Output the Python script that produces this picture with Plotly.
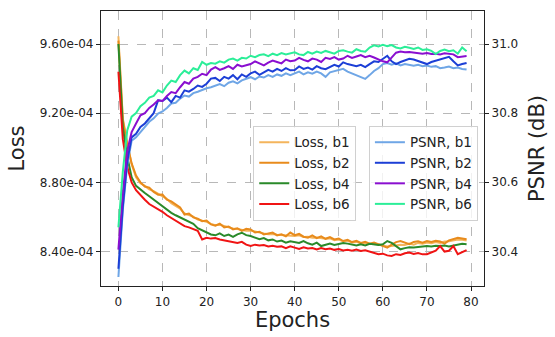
import numpy as np
import plotly.graph_objects as go

epochs = list(range(80))

# Loss values in units of 1e-4
loss_b1 = [9.645, 9.17, 9.03, 8.905, 8.83, 8.795, 8.78, 8.76, 8.75, 8.735,
           8.72, 8.705, 8.68, 8.665, 8.648, 8.62, 8.61, 8.602, 8.585, 8.58,
           8.572, 8.56, 8.553, 8.555, 8.548, 8.538, 8.534, 8.53, 8.525, 8.52,
           8.522, 8.515, 8.51, 8.505, 8.50, 8.502, 8.497, 8.495, 8.492, 8.49,
           8.49, 8.494, 8.484, 8.486, 8.48, 8.482, 8.478, 8.474, 8.476, 8.466,
           8.47, 8.458, 8.462, 8.452, 8.456, 8.448, 8.45, 8.444, 8.446, 8.44,
           8.432, 8.43, 8.432, 8.436, 8.44, 8.438, 8.446, 8.44, 8.45, 8.445,
           8.452, 8.448, 8.455, 8.45, 8.458, 8.46, 8.465, 8.47, 8.468, 8.464]
loss_b2 = [9.62, 9.16, 9.02, 8.91, 8.84, 8.80, 8.776, 8.77, 8.745, 8.729,
           8.73, 8.70, 8.69, 8.672, 8.655, 8.614, 8.62, 8.598, 8.59, 8.576,
           8.58, 8.557, 8.55, 8.562, 8.54, 8.545, 8.528, 8.535, 8.52, 8.532,
           8.528, 8.51, 8.515, 8.499, 8.505, 8.51, 8.494, 8.50, 8.488, 8.51,
           8.495, 8.502, 8.486, 8.48, 8.494, 8.478, 8.488, 8.474, 8.484, 8.47,
           8.476, 8.461, 8.468, 8.455, 8.462, 8.45, 8.456, 8.446, 8.452, 8.442,
           8.435, 8.423, 8.44, 8.455, 8.461, 8.45, 8.443, 8.456, 8.46, 8.452,
           8.461, 8.455, 8.462, 8.458, 8.446, 8.465, 8.472, 8.48, 8.476, 8.471]
loss_b4 = [9.60, 9.12, 8.95, 8.83, 8.78, 8.757, 8.739, 8.72, 8.70, 8.681,
           8.665, 8.64, 8.624, 8.61, 8.598, 8.585, 8.57, 8.56, 8.535, 8.524,
           8.51, 8.499, 8.494, 8.505, 8.49, 8.498, 8.485, 8.50, 8.509, 8.495,
           8.49, 8.48, 8.471, 8.478, 8.465, 8.47, 8.458, 8.464, 8.452, 8.46,
           8.455, 8.45, 8.461, 8.448, 8.44, 8.452, 8.432, 8.44, 8.446, 8.438,
           8.444, 8.45, 8.446, 8.44, 8.435, 8.442, 8.436, 8.445, 8.44, 8.438,
           8.442, 8.461, 8.45, 8.43, 8.413, 8.42, 8.425, 8.424, 8.428, 8.43,
           8.432, 8.43, 8.434, 8.432, 8.435, 8.43, 8.434, 8.438, 8.445, 8.442]
loss_b6 = [9.44, 9.05, 8.89, 8.80, 8.755, 8.725, 8.70, 8.675, 8.66, 8.643,
           8.63, 8.61, 8.595, 8.58, 8.565, 8.547, 8.54, 8.528, 8.52, 8.47,
           8.48, 8.475, 8.478, 8.47, 8.465, 8.46, 8.455, 8.45, 8.456, 8.44,
           8.432, 8.44, 8.435, 8.438, 8.43, 8.434, 8.428, 8.43, 8.42, 8.43,
           8.423, 8.415, 8.425, 8.418, 8.42, 8.412, 8.42, 8.414, 8.418, 8.41,
           8.415, 8.407, 8.41, 8.405, 8.412, 8.404, 8.408, 8.40, 8.395, 8.385,
           8.388, 8.378, 8.375, 8.385, 8.38, 8.39, 8.394, 8.386, 8.392, 8.384,
           8.385, 8.395, 8.405, 8.432, 8.40, 8.405, 8.432, 8.385, 8.395, 8.409]

psnr_b1 = [30.326, 30.52, 30.65, 30.72, 30.73, 30.746, 30.76, 30.775, 30.785, 30.799,
           30.805, 30.815, 30.828, 30.83, 30.842, 30.851, 30.848, 30.858, 30.862, 30.868,
           30.872, 30.875, 30.88, 30.884, 30.878, 30.888, 30.892, 30.886, 30.895, 30.9,
           30.904, 30.898, 30.906, 30.903, 30.91, 30.905, 30.912, 30.908, 30.915, 30.91,
           30.915, 30.92, 30.912, 30.918, 30.914, 30.92, 30.915, 30.905, 30.918, 30.922,
           30.926, 30.928, 30.92, 30.915, 30.91, 30.904, 30.899, 30.91, 30.922, 30.93,
           30.942, 30.945, 30.94, 30.944, 30.938, 30.942, 30.94, 30.937, 30.94, 30.936,
           30.938, 30.934, 30.936, 30.93, 30.932, 30.935, 30.93, 30.932, 30.928, 30.926]
psnr_b2 = [30.35, 30.53, 30.66, 30.73, 30.74, 30.76, 30.77, 30.785, 30.80, 30.837,
           30.835, 30.845, 30.832, 30.85, 30.845, 30.866, 30.862, 30.87, 30.88, 30.876,
           30.885, 30.9, 30.902, 30.893, 30.905, 30.9, 30.91, 30.898, 30.912, 30.905,
           30.915, 30.92, 30.911, 30.918, 30.925, 30.92, 30.928, 30.922, 30.93, 30.924,
           30.925, 30.935, 30.928, 30.932, 30.926, 30.936, 30.93, 30.927, 30.933, 30.94,
           30.935, 30.947, 30.942, 30.938, 30.936, 30.94, 30.933, 30.942, 30.95, 30.948,
           30.958, 30.966, 30.95, 30.942, 30.948, 30.952, 30.957, 30.955, 30.95, 30.946,
           30.942, 30.948, 30.952, 30.956, 30.96, 30.963, 30.95, 30.938, 30.942, 30.945]
psnr_b4 = [30.405, 30.57, 30.69, 30.745, 30.77, 30.794, 30.80, 30.815, 30.825, 30.837,
           30.835, 30.85, 30.861, 30.858, 30.875, 30.89, 30.885, 30.90, 30.905, 30.914,
           30.91, 30.926, 30.933, 30.925, 30.93, 30.936, 30.928, 30.94, 30.935, 30.938,
           30.942, 30.95, 30.944, 30.938, 30.946, 30.952, 30.948, 30.944, 30.955, 30.95,
           30.952, 30.96, 30.954, 30.95, 30.958, 30.955, 30.948, 30.96, 30.957, 30.962,
           30.955, 30.958, 30.966, 30.96, 30.964, 30.968, 30.962, 30.966, 30.961, 30.955,
           30.95, 30.947, 30.96, 30.975, 30.978, 30.976, 30.977, 30.975, 30.973, 30.972,
           30.974, 30.971, 30.972, 30.97, 30.973, 30.972, 30.97, 30.962, 30.964, 30.965]
psnr_b6 = [30.47, 30.63, 30.75, 30.79, 30.80, 30.82, 30.83, 30.845, 30.85, 30.866,
           30.86, 30.88, 30.894, 30.89, 30.91, 30.923, 30.915, 30.93, 30.925, 30.948,
           30.94, 30.945, 30.943, 30.95, 30.946, 30.955, 30.958, 30.952, 30.96, 30.958,
           30.966, 30.962, 30.968, 30.97, 30.965, 30.972, 30.968, 30.974, 30.97, 30.973,
           30.976, 30.97, 30.968, 30.977, 30.972, 30.978, 30.974, 30.98, 30.976, 30.972,
           30.98, 30.982, 30.978, 30.975, 30.985, 30.98, 30.978, 30.99, 30.996, 30.993,
           30.998, 30.994, 30.997, 30.99, 30.987, 30.992, 30.989, 30.986, 30.99, 30.983,
           30.985, 30.98, 30.971, 30.98, 30.984, 30.979, 30.982, 30.972, 30.99, 30.979]

x_ticks = [0, 10, 20, 30, 40, 50, 60, 70, 80]
loss_ticks = [8.4e-4, 8.8e-4, 9.2e-4, 9.6e-4]
loss_tick_text = ["8.40e-04", "8.80e-04", "9.20e-04", "9.60e-04"]
psnr_ticks = [30.4, 30.6, 30.8, 31.0]
psnr_tick_text = ["30.4", "30.6", "30.8", "31.0"]

loss_series = [("Loss, b1", loss_b1, "#F4B55C"),
               ("Loss, b2", loss_b2, "#E88B1C"),
               ("Loss, b4", loss_b4, "#2A8A2A"),
               ("Loss, b6", loss_b6, "#F01414")]
psnr_series = [("PSNR, b1", psnr_b1, "#6FA6E6"),
               ("PSNR, b2", psnr_b2, "#1C3FD6"),
               ("PSNR, b4", psnr_b4, "#8A0FD0"),
               ("PSNR, b6", psnr_b6, "#2BEE98")]

FONT = "DejaVu Sans"
fig = go.Figure()
for name, vals, col in loss_series:
    fig.add_trace(go.Scatter(x=epochs, y=np.array(vals) * 1e-4, mode="lines", name=name,
                             line=dict(color=col, width=2), yaxis="y", legend="legend"))
for name, vals, col in psnr_series:
    fig.add_trace(go.Scatter(x=epochs, y=vals, mode="lines", name=name,
                             line=dict(color=col, width=2), yaxis="y2", legend="legend2"))

axis_common = dict(showline=True, linecolor="#222", linewidth=1.2, mirror=True,
                   ticks="outside", ticklen=4, tickcolor="#222", tickwidth=1,
                   tickfont=dict(family=FONT, size=12, color="#222"), zeroline=False)

legend_common = dict(xanchor="left", yanchor="top",
                     bgcolor="rgba(255,255,255,0.8)", bordercolor="#d0d0d0", borderwidth=1,
                     font=dict(family=FONT, size=13.5, color="#222"), itemwidth=30,
                     tracegroupgap=0)

fig.update_layout(
    width=555, height=337,
    margin=dict(l=101, r=62, t=10, b=50),
    paper_bgcolor="white", plot_bgcolor="white",
    font=dict(family=FONT, color="#222"),
    xaxis=dict(range=[-3.95, 82.95], tickvals=x_ticks,
               showgrid=True, gridcolor="#b8b8b8", griddash="dash", gridwidth=1,
               title=dict(text="Epochs", font=dict(family=FONT, size=21, color="#222"), standoff=4),
               **axis_common),
    yaxis=dict(range=[8.201e-4, 9.791e-4], tickvals=loss_ticks, ticktext=loss_tick_text,
               showgrid=True, gridcolor="#b8b8b8", griddash="dash", gridwidth=1,
               title=dict(text="Loss", font=dict(family=FONT, size=21, color="#222"), standoff=9),
               **axis_common),
    yaxis2=dict(range=[30.30, 31.0955], tickvals=psnr_ticks, ticktext=psnr_tick_text,
                overlaying="y", side="right", showgrid=False,
                title=dict(text="PSNR (dB)", font=dict(family=FONT, size=21, color="#222"), standoff=12),
                **{k: v for k, v in axis_common.items() if k != "mirror"}),
    legend=dict(x=0.3975, y=0.582, entrywidth=100, **legend_common),
    legend2=dict(x=0.6995, y=0.582, entrywidth=106, **legend_common),
    showlegend=True,
)

fig.write_html("out.html")
